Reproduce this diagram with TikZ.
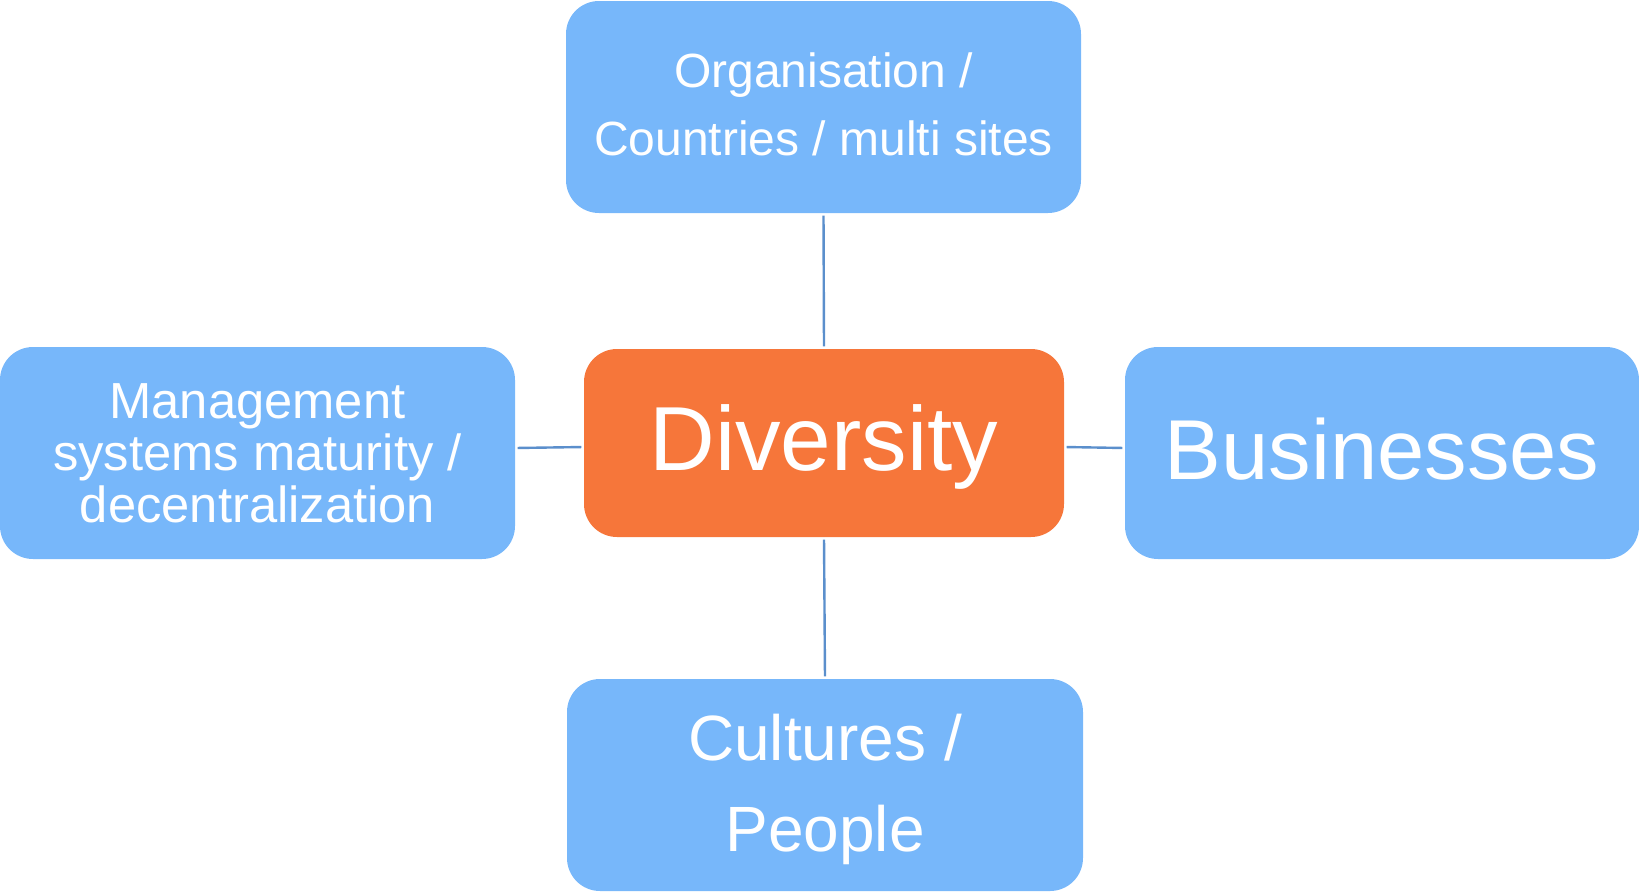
\documentclass[tikz,border=0pt]{standalone}
\usepackage{fontspec}
\setmainfont{Liberation Sans}
\definecolor{boxblue}{HTML}{77B7FA}
\definecolor{boxorange}{HTML}{F6763A}
\definecolor{linkblue}{HTML}{5B8FCC}
\begin{document}
\begin{tikzpicture}[x=1pt,y=-1pt,
  bluebox/.style={rectangle, rounded corners=33pt, fill=boxblue, inner sep=0pt, minimum width=515pt, minimum height=212pt},
  orangebox/.style={rectangle, rounded corners=33pt, fill=boxorange, inner sep=0pt, minimum width=480pt, minimum height=188pt},
  boxtext/.style={text=white, inner sep=0pt, align=center},
  link/.style={draw=linkblue, line width=2.4pt, shorten <=2.5pt, shorten >=2.5pt}]
\useasboundingbox (0,0) rectangle (1639,892);
\node[bluebox] (top) at (823.5,107) {};
\node[bluebox] (left) at (257.5,453) {};
\node[bluebox, minimum width=514pt] (right) at (1382,453) {};
\node[bluebox, minimum width=516pt] (bottom) at (825,785) {};
\node[orangebox] (center) at (824,443) {};
\node[boxtext, font=\fontsize{48}{68}\selectfont] (toptext) at ([yshift=3pt]top.center) {Organisation /\\Countries / multi sites};
\node[boxtext, font=\fontsize{50.7}{52}\selectfont] (lefttext) at (left.center) {Management\\systems maturity /\\decentralization};
\node[boxtext, font=\fontsize{85}{100}\selectfont] (righttext) at ([yshift=4pt]right.center) {Businesses};
\node[boxtext, font=\fontsize{64}{91}\selectfont] (bottomtext) at ([yshift=-4pt]bottom.center) {Cultures /\\People};
\node[boxtext, font=\fontsize{91}{100}\selectfont] (centertext) at ([yshift=-4pt]center.center) {Diversity};
\draw[link] (top.south) -- (center.north);
\draw[link] (center.south) -- (bottom.north);
\draw[link] ([yshift=5pt]left.east) -- ([yshift=-4pt]center.west);
\draw[link] ([yshift=-4pt]center.east) -- ([yshift=5pt]right.west);
\end{tikzpicture}
\end{document}
